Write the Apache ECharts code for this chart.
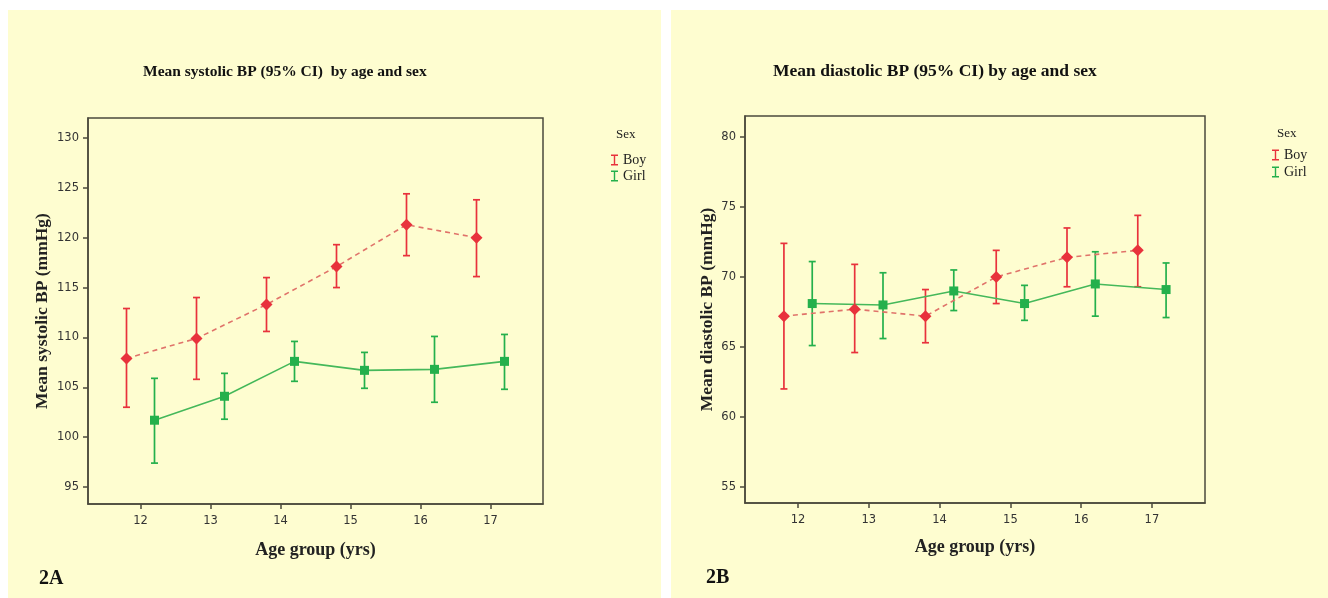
<!DOCTYPE html>
<html>
<head>
<meta charset="utf-8">
<script src="https://cdn.jsdelivr.net/npm/echarts@6/dist/echarts.min.js"></script>
<style>
  html, body { margin: 0; padding: 0; background: #ffffff; }
  #chart { width: 1328px; height: 598px; }
</style>
</head>
<body>
<div id="chart"></div>
<script>
// ---- Data ----
const ages = [12, 13, 14, 15, 16, 17];

// Systolic (panel 2A)
const sysBoyMean  = [107.9, 109.9, 113.3, 117.1, 121.3, 120.0];
const sysBoyLow   = [103.0, 105.8, 110.6, 115.0, 118.2, 116.1];
const sysBoyHigh  = [112.9, 114.0, 116.0, 119.3, 124.4, 123.8];
const sysGirlMean = [101.7, 104.1, 107.6, 106.7, 106.8, 107.6];
const sysGirlLow  = [97.4, 101.8, 105.6, 104.9, 103.5, 104.8];
const sysGirlHigh = [105.9, 106.4, 109.6, 108.5, 110.1, 110.3];

// Diastolic (panel 2B)
const diaBoyMean  = [67.2, 67.7, 67.2, 70.0, 71.4, 71.9];
const diaBoyLow   = [62.0, 64.6, 65.3, 68.1, 69.3, 69.3];
const diaBoyHigh  = [72.4, 70.9, 69.1, 71.9, 73.5, 74.4];
const diaGirlMean = [68.1, 68.0, 69.0, 68.1, 69.5, 69.1];
const diaGirlLow  = [65.1, 65.6, 67.6, 66.9, 67.2, 67.1];
const diaGirlHigh = [71.1, 70.3, 70.5, 69.4, 71.8, 71.0];

const sysTicks = [95, 100, 105, 110, 115, 120, 125, 130];
const diaTicks = [55, 60, 65, 70, 75, 80];
const xTicks = [12, 13, 14, 15, 16, 17];

// ---- Styling ----
const BG = '#FEFDD0';
const RED = '#E8323C';
const RED_LINE = '#E0736A';
const GREEN = '#24B04C';
const GREEN_LINE = '#45B85A';
const AXIS = '#4b4a3c';
const BOY_OFF = -0.2, GIRL_OFF = 0.2;

function pts(mean, off) { return ages.map((a, i) => [a + off, mean[i]]); }
function errs(lo, hi, off) { return ages.map((a, i) => [a + off, lo[i], hi[i]]); }

function renderErr(params, api) {
  const x = api.value(0), lo = api.value(1), hi = api.value(2);
  const p1 = api.coord([x, hi]), p2 = api.coord([x, lo]);
  const w = 3.5;
  const style = { stroke: api.visual('color'), lineWidth: 1.7 };
  return {
    type: 'group',
    children: [
      { type: 'line', shape: { x1: p1[0], y1: p1[1], x2: p2[0], y2: p2[1] }, style },
      { type: 'line', shape: { x1: p1[0] - w, y1: p1[1], x2: p1[0] + w, y2: p1[1] }, style },
      { type: 'line', shape: { x1: p2[0] - w, y1: p2[1], x2: p2[0] + w, y2: p2[1] }, style }
    ]
  };
}

const serif = 'Liberation Serif';
const sans = 'DejaVu Sans';

function xAxisCfg(gridIndex, nameGap) {
  return {
    type: 'value', gridIndex, min: 11.25, max: 17.75,
    name: 'Age group (yrs)', nameLocation: 'middle', nameGap,
    nameTextStyle: { fontFamily: serif, fontWeight: 'bold', fontSize: 18, color: '#222' },
    axisLine: { show: true, onZero: false, lineStyle: { color: AXIS, width: 1.5 } },
    axisTick: { show: true, length: 5, customValues: xTicks, lineStyle: { color: AXIS, width: 1.5 } },
    axisLabel: { customValues: xTicks, margin: 11, fontFamily: sans, fontSize: 11.5, color: '#333' },
    splitLine: { show: false }
  };
}
function yAxisCfg(gridIndex, min, max, ticks, name, nameGap) {
  return {
    type: 'value', gridIndex, min, max,
    name, nameLocation: 'middle', nameGap,
    nameTextStyle: { fontFamily: serif, fontWeight: 'bold', fontSize: 17.5, color: '#222' },
    axisLine: { show: true, onZero: false, lineStyle: { color: AXIS, width: 1.5 } },
    axisTick: { show: true, length: 5, customValues: ticks, lineStyle: { color: AXIS, width: 1.5 } },
    axisLabel: { customValues: ticks, margin: 9, fontFamily: sans, fontSize: 11.5, color: '#333' },
    splitLine: { show: false }
  };
}

function lineSeries(name, idx, data, color, lineColor, dashed, symbol, size) {
  return {
    name, type: 'line', xAxisIndex: idx, yAxisIndex: idx, data,
    symbol, symbolSize: size, z: 4,
    itemStyle: { color },
    lineStyle: { color: lineColor, width: 1.6, type: dashed ? [5, 4] : 'solid' },
    animation: false
  };
}
function errSeries(name, idx, data, color) {
  return {
    name, type: 'custom', xAxisIndex: idx, yAxisIndex: idx, data,
    renderItem: renderErr, itemStyle: { color }, z: 3, animation: false,
    encode: { x: 0, y: [1, 2] }
  };
}

const icon = 'path://M0,0h7v1.4h-7z M2.8,0h1.4v11h-1.4z M0,9.6h7v1.4h-7z';

const option = {
  backgroundColor: '#ffffff',
  animation: false,
  graphic: [
    { type: 'rect', z: -10, shape: { x: 8, y: 10, width: 653, height: 588 }, style: { fill: BG } },
    { type: 'rect', z: -10, shape: { x: 671, y: 10, width: 657, height: 588 }, style: { fill: BG } },
    { type: 'text', left: 143, top: 64, style: { text: 'Mean systolic BP (95% CI)  by age and sex', font: 'bold 15.5px "Liberation Serif"', fill: '#111' } },
    { type: 'text', left: 773, top: 62, style: { text: 'Mean diastolic BP (95% CI) by age and sex', font: 'bold 17.5px "Liberation Serif"', fill: '#111' } },
    { type: 'text', left: 39, top: 569, style: { text: '2A', font: 'bold 20px "Liberation Serif"', fill: '#111' } },
    { type: 'text', left: 706, top: 568, style: { text: '2B', font: 'bold 20px "Liberation Serif"', fill: '#111' } },
    { type: 'text', left: 616, top: 128, style: { text: 'Sex', font: '13px "Liberation Serif"', fill: '#222' } },
    { type: 'text', left: 1277, top: 127, style: { text: 'Sex', font: '13px "Liberation Serif"', fill: '#222' } }
  ],
  legend: [
    {
      left: 606, top: 148, orient: 'vertical', itemGap: 2, itemWidth: 7, itemHeight: 11,
      icon, textStyle: { fontFamily: serif, fontSize: 14, color: '#222' },
      data: [{ name: 'Boy', itemStyle: { color: RED } }, { name: 'Girl', itemStyle: { color: GREEN } }]
    },
    {
      left: 1267, top: 143, orient: 'vertical', itemGap: 3, itemWidth: 7, itemHeight: 11,
      icon, textStyle: { fontFamily: serif, fontSize: 14, color: '#222' },
      data: [{ name: 'Boy', itemStyle: { color: RED } }, { name: 'Girl', itemStyle: { color: GREEN } }]
    }
  ],
  grid: [
    { left: 88, top: 118, width: 455, height: 386, show: true, backgroundColor: BG, borderColor: AXIS, borderWidth: 1.5 },
    { left: 745, top: 116, width: 460, height: 387, show: true, backgroundColor: BG, borderColor: AXIS, borderWidth: 1.5 }
  ],
  xAxis: [xAxisCfg(0, 37), xAxisCfg(1, 35)],
  yAxis: [
    yAxisCfg(0, 93.3, 132, sysTicks, 'Mean systolic BP (mmHg)', 37),
    yAxisCfg(1, 53.85, 81.5, diaTicks, 'Mean diastolic BP (mmHg)', 29)
  ],
  series: [
    errSeries('Boy', 0, errs(sysBoyLow, sysBoyHigh, BOY_OFF), RED),
    errSeries('Girl', 0, errs(sysGirlLow, sysGirlHigh, GIRL_OFF), GREEN),
    lineSeries('Boy', 0, pts(sysBoyMean, BOY_OFF), RED, RED_LINE, true, 'diamond', 12),
    lineSeries('Girl', 0, pts(sysGirlMean, GIRL_OFF), GREEN, GREEN_LINE, false, 'rect', 9),
    errSeries('Boy', 1, errs(diaBoyLow, diaBoyHigh, BOY_OFF), RED),
    errSeries('Girl', 1, errs(diaGirlLow, diaGirlHigh, GIRL_OFF), GREEN),
    lineSeries('Boy', 1, pts(diaBoyMean, BOY_OFF), RED, RED_LINE, true, 'diamond', 12),
    lineSeries('Girl', 1, pts(diaGirlMean, GIRL_OFF), GREEN, GREEN_LINE, false, 'rect', 9)
  ]
};

const chart = echarts.init(document.getElementById('chart'), null, { renderer: 'canvas' });
chart.setOption(option);
</script>
</body>
</html>
